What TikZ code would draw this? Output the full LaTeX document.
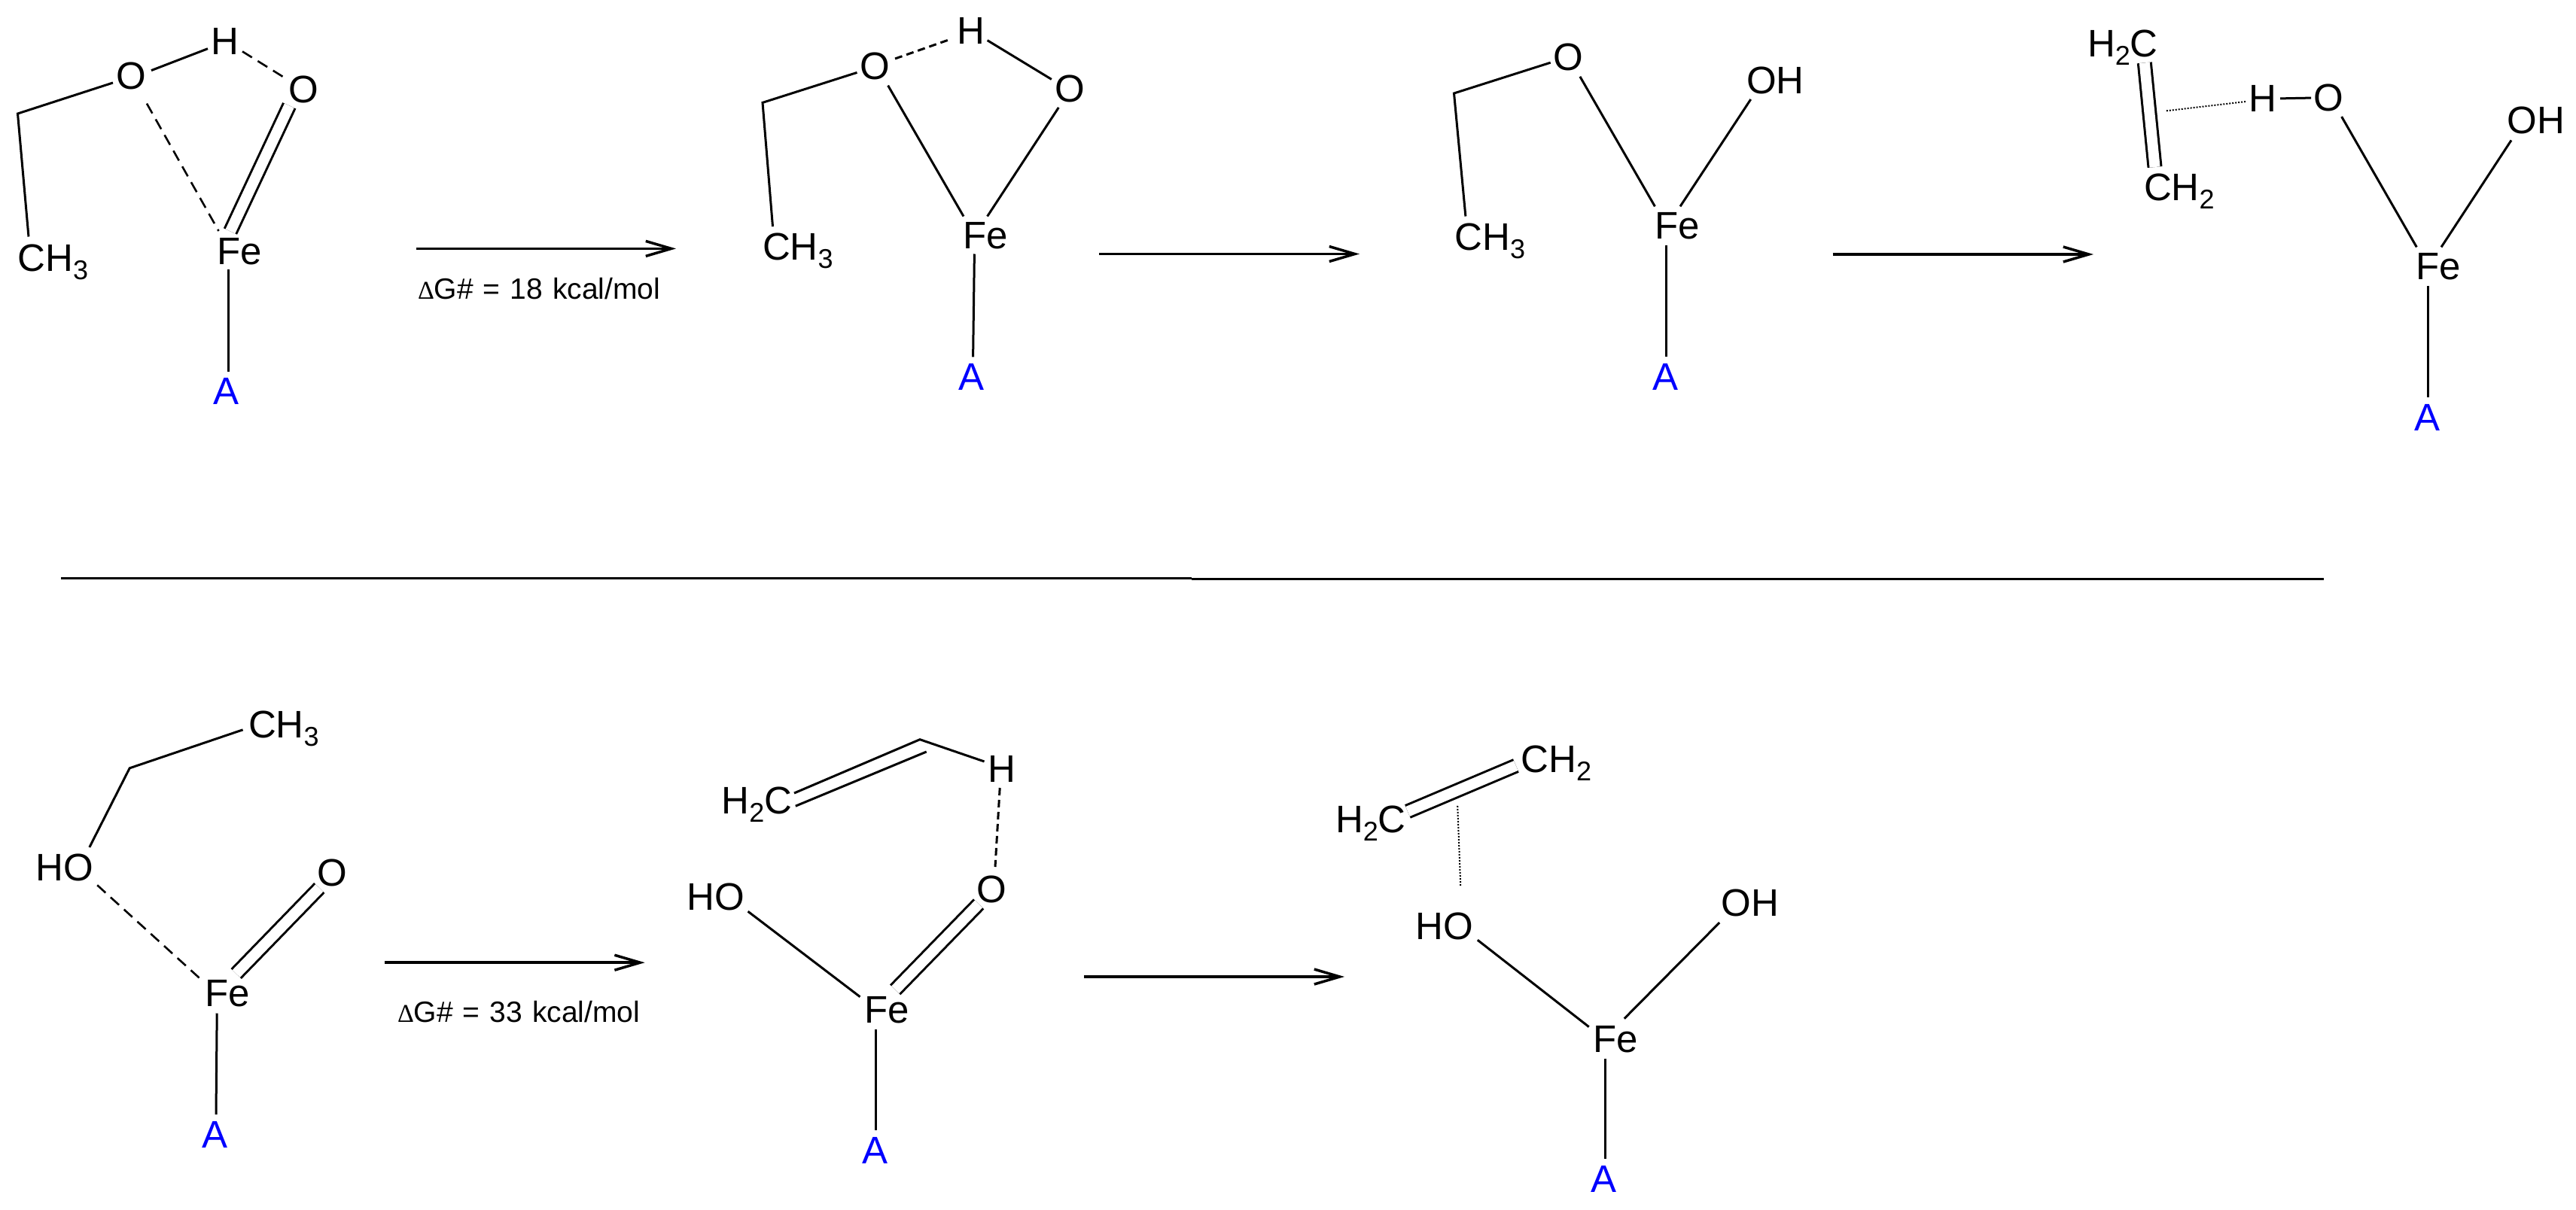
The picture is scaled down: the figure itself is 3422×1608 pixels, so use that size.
\documentclass[tikz,border=0pt]{standalone}
\usepackage{fontspec}
\setmainfont{Liberation Sans}
\newfontfamily\symfont{Liberation Serif}
\usetikzlibrary{arrows.meta}
\newcommand\atomfont{\fontsize{51}{51}\selectfont}
\newcommand\labelfont{\fontsize{39}{39}\selectfont\spaceskip=13pt\relax}
\newcommand\lowidx[1]{\raisebox{-11pt}{\fontsize{36}{36}\selectfont #1}}
\newcommand\deltasym{{\symfont\fontsize{34}{34}\selectfont Δ}}
\tikzset{
  atom/.style={inner sep=0pt,outer sep=0pt,font=\atomfont,anchor=base,text=black},
  atomw/.style={atom,anchor=base west},
  ligand/.style={atom,text=ligblue},
  costlabel/.style={inner sep=0pt,outer sep=0pt,font=\labelfont,anchor=base west},
  bond/.style={line width=3pt,line cap=butt,line join=miter,black},
  dbond/.style={line width=3pt,double,double distance=14pt,black},
  weak/.style={line width=2.6pt,dash pattern=on 15pt off 9pt,black},
  weakshort/.style={line width=3pt,dash pattern=on 10pt off 6pt,black},
  contact/.style={line width=2pt,dash pattern=on 2pt off 2pt,black},
  rxn/.style={line width=3.5pt,black,-{Straight Barb[length=34pt,width=20pt,line width=3.5pt]}},
  rule/.style={line width=2.5pt,black}
}
\definecolor{ligblue}{RGB}{0,0,255}
\begin{document}
\begin{tikzpicture}[x=1pt,y=-1pt]
\useasboundingbox[fill=white] (0,0) rectangle (3422,1608);

% --- Molecule 1
\node[atom] (h1) at (299,73) {H};
\node[atom] (o1) at (174,119) {O};
\node[atom] (p1) at (403,137) {O};
\node[atomw] (me1) at (23.5,360) {CH\lowidx{3}};
\node[atom] (fe1) at (318,351) {Fe};
\node[ligand] (a1) at (301,537) {A};
\coordinate (c1) at (23.5,151);
\draw[bond] ([shift={(-24,-9)}]o1.base) -- (c1) -- ([shift={(14.5,-45.5)}]me1.base west);
\draw[bond] ([shift={(27,-25.4)}]o1.base) -- ([shift={(-23,-8.3)}]h1.base);
\draw[weak] ([shift={(23,-4.6)}]h1.base) -- ([shift={(-24.5,-33.4)}]p1.base);
\draw[weak] ([shift={(21,18.6)}]o1.base) -- ([shift={(-27.5,-44)}]fe1.base);
\draw[dbond] ([shift={(-12,-43.6)}]fe1.base) -- ([shift={(-18.7,3.4)}]p1.base);
\draw[bond] ([shift={(-15,7)}]fe1.base) -- ([shift={(2,-43)}]a1.base);

% --- Arrow 1
\coordinate (r1s) at (553,330.4);
\coordinate (r1e) at (898,330.4);
\draw[rxn] (r1s) -- (r1e);
\node[costlabel] (e1) at (555,397) {\deltasym G\# = 18 kcal/mol};

% --- Molecule 2
\node[atom] (h2) at (1290,59) {H};
\node[atom] (o2) at (1162,106) {O};
\node[atom] (p2) at (1421,136) {O};
\node[atomw] (me2) at (1013,345) {CH\lowidx{3}};
\node[atom] (fe2) at (1309,330) {Fe};
\node[ligand] (a2) at (1290.6,518) {A};
\coordinate (c2) at (1013,136.4);
\draw[bond] ([shift={(-23.5,-9.6)}]o2.base) -- (c2) -- ([shift={(13.5,-44)}]me2.base west);
\draw[weakshort] ([shift={(27,-28)}]o2.base) -- ([shift={(-27,-7)}]h2.base);
\draw[bond] ([shift={(21.6,-5.4)}]h2.base) -- ([shift={(-24.2,-30.6)}]p2.base);
\draw[bond] ([shift={(17.6,7.6)}]o2.base) -- ([shift={(-29,-42.5)}]fe2.base);
\draw[bond] ([shift={(-14.7,6.9)}]p2.base) -- ([shift={(2.6,-42.5)}]fe2.base);
\draw[bond] ([shift={(-14.6,7.5)}]fe2.base) -- ([shift={(2,-43.7)}]a2.base);

% --- Arrow 2
\coordinate (r2s) at (1460,337.5);
\coordinate (r2e) at (1806,337.5);
\draw[rxn] (r2s) -- (r2e);

% --- Molecule 3
\node[atom] (o3) at (2083.6,94) {O};
\node[atom] (oh3) at (2358.5,124.5) {OH};
\node[atomw] (me3) at (1932.5,332) {CH\lowidx{3}};
\node[atom] (fe3) at (2228.5,317) {Fe};
\node[ligand] (a3) at (2212.8,518) {A};
\coordinate (c3) at (1931.5,124);
\draw[bond] ([shift={(-23.9,-10.8)}]o3.base) -- (c3) -- ([shift={(14.4,-44.5)}]me3.base west);
\draw[bond] ([shift={(15.3,7.8)}]o3.base) -- ([shift={(-30.1,-42.7)}]fe3.base);
\draw[bond] ([shift={(-32.8,7.5)}]oh3.base) -- ([shift={(3.5,-42.7)}]fe3.base);
\draw[bond] ([shift={(-14.8,8.7)}]fe3.base) -- ([shift={(0.9,-43.7)}]a3.base);

% --- Arrow 3
\coordinate (r3s) at (2434.5,338);
\coordinate (r3e) at (2781,338);
\draw[rxn] (r3s) -- (r3e);

% --- Molecule 4
\node[atomw] (ea4) at (2773,76) {H\lowidx{2}C};
\node[atomw] (eb4) at (2848,266.7) {CH\lowidx{2}};
\node[atom] (h4) at (3005.6,148.5) {H};
\node[atom] (o4) at (3093,148) {O};
\node[atom] (oh4) at (3369,178) {OH};
\node[atom] (fe4) at (3239,371) {Fe};
\node[ligand] (a4) at (3224.6,572) {A};
\coordinate (pi4) at (2877.8,147.3);
\draw[dbond] ([shift={(75.8,7.4)}]ea4.base west) -- ([shift={(14.5,-44.7)}]eb4.base west);
\draw[contact] (pi4) -- ([shift={(-22.2,-13.5)}]h4.base);
\draw[bond] ([shift={(23.4,-17.6)}]h4.base) -- ([shift={(-23,-17.9)}]o4.base);
\draw[bond] ([shift={(17.6,7)}]o4.base) -- ([shift={(-28.7,-42.6)}]fe4.base);
\draw[bond] ([shift={(-33,8.4)}]oh4.base) -- ([shift={(4,-42.6)}]fe4.base);
\draw[bond] ([shift={(-13.7,8.6)}]fe4.base) -- ([shift={(0.7,-44)}]a4.base);

% --- Divider
\coordinate (d1) at (81,768.3);
\coordinate (d2) at (1583,768.3);
\coordinate (d3) at (1583,769.3);
\coordinate (d4) at (3087,769.3);
\draw[rule] (d1) -- (d2);
\draw[rule] (d3) -- (d4);

% --- Molecule 5
\node[atomw] (me5) at (330,980) {CH\lowidx{3}};
\node[atom] (ho5) at (86,1170) {HO};
\node[atom] (p5) at (441,1177.6) {O};
\node[atom] (fe5) at (302,1337.6) {Fe};
\node[ligand] (a5) at (286,1525) {A};
\coordinate (c5) at (172.2,1020.8);
\draw[bond] ([shift={(-7.4,-10.2)}]me5.base west) -- (c5) -- ([shift={(32.8,-44)}]ho5.base);
\draw[weak] ([shift={(43.2,6.3)}]ho5.base) -- ([shift={(-35,-36)}]fe5.base);
\draw[dbond] ([shift={(11.7,-43.6)}]fe5.base) -- ([shift={(-16.7,2.4)}]p5.base);
\draw[bond] ([shift={(-13.8,8.9)}]fe5.base) -- ([shift={(1,-44)}]a5.base);

% --- Arrow 4
\coordinate (r4s) at (511,1279.2);
\coordinate (r4e) at (856.6,1279.2);
\draw[rxn] (r4s) -- (r4e);
\node[costlabel] (e2) at (528,1358) {\deltasym G\# = 33 kcal/mol};

% --- Molecule 6
\node[atomw] (ea6) at (958.6,1081.4) {H\lowidx{2}C};
\node[atom] (h6) at (1330.7,1039) {H};
\node[atom] (p6) at (1317.5,1199) {O};
\node[atom] (ho6) at (950.5,1209) {HO};
\node[atom] (fe6) at (1178,1359) {Fe};
\node[ligand] (a6) at (1162.5,1546) {A};
\coordinate (c6) at (1222,982.7);
\coordinate (c6i) at (1230.7,999);
\draw[bond] ([shift={(96.4,-27.4)}]ea6.base west) -- (c6) -- ([shift={(-23.2,-27)}]h6.base);
\draw[bond] ([shift={(98.2,-10.2)}]ea6.base west) -- (c6i);
\draw[weakshort] ([shift={(-2.5,8)}]h6.base) -- ([shift={(4.5,-47)}]p6.base);
\draw[bond] ([shift={(43.1,2.2)}]ho6.base) -- ([shift={(-35.5,-34.3)}]fe6.base);
\draw[dbond] ([shift={(11.2,-43.7)}]fe6.base) -- ([shift={(-17.4,2.4)}]p6.base);
\draw[bond] ([shift={(-14.8,9.4)}]fe6.base) -- ([shift={(0.7,-44.2)}]a6.base);

% --- Arrow 5
\coordinate (r5s) at (1440,1298);
\coordinate (r5e) at (1786,1298);
\draw[rxn] (r5s) -- (r5e);

% --- Molecule 7
\node[atomw] (ea7) at (1774,1106) {H\lowidx{2}C};
\node[atomw] (eb7) at (2020.4,1026.4) {CH\lowidx{2}};
\node[atom] (ho7) at (1918.6,1248.8) {HO};
\node[atom] (oh7) at (2325,1217.7) {OH};
\node[atom] (fe7) at (2146.5,1398) {Fe};
\node[ligand] (a7) at (2130.6,1584.5) {A};
\coordinate (pi7) at (1936.2,1070.9);
\draw[dbond] ([shift={(96,-27.6)}]ea7.base west) -- ([shift={(-6.6,-8.9)}]eb7.base west);
\draw[contact] (pi7) -- ([shift={(21.7,-70)}]ho7.base);
\draw[bond] ([shift={(44.2,0.4)}]ho7.base) -- ([shift={(-35.8,-33.4)}]fe7.base);
\draw[bond] ([shift={(-40.8,8.3)}]oh7.base) -- ([shift={(11.2,-44.3)}]fe7.base);
\draw[bond] ([shift={(-14.4,8.6)}]fe7.base) -- ([shift={(1.5,-44.9)}]a7.base);
\end{tikzpicture}
\end{document}
